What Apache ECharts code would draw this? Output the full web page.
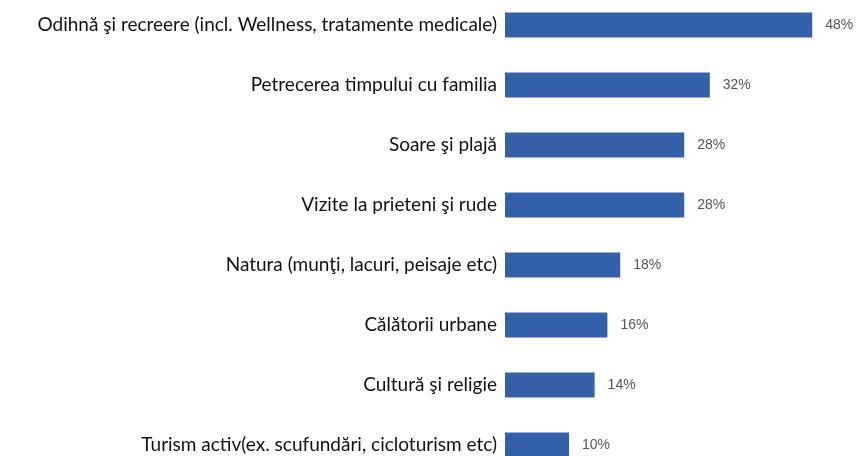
<!DOCTYPE html>
<html><head><meta charset="utf-8">
<script src="https://cdn.jsdelivr.net/npm/echarts@6/dist/echarts.min.js"></script>
<style>html,body{margin:0;padding:0;background:#fff;overflow:hidden;width:861px;height:456px}#c{width:861px;height:480px;margin-top:-5px}</style>
</head><body><div id="c"></div>
<script>
const categories = [
  "Odihnă şi recreere (incl. Wellness, tratamente medicale)",
  "Petrecerea timpului cu familia",
  "Soare şi plajă",
  "Vizite la prieteni şi rude",
  "Natura (munţi, lacuri, peisaje etc)",
  "Călătorii urbane",
  "Cultură şi religie",
  "Turism activ(ex. scufundări, cicloturism etc)"
];
const values = [48, 32, 28, 28, 18, 16, 14, 10];

const chart = echarts.init(document.getElementById('c'), null, {renderer: 'canvas'});
chart.setOption({
  animation: false,
  grid: {left: 505, top: 0, width: 320, height: 480, containLabel: false},
  xAxis: {type: 'value', min: 0, max: 50, show: false},
  yAxis: {
    type: 'category', data: categories, inverse: true,
    axisLine: {show: false}, axisTick: {show: false}, splitLine: {show: false},
    axisLabel: {color: '#111', fontFamily: 'Lato', fontSize: 19, margin: 8}
  },
  series: [{
    type: 'bar', data: values, barWidth: 25,
    itemStyle: {color: '#3460AA'},
    label: {show: true, position: 'right', distance: 13, formatter: '{c}%',
      color: '#555', fontFamily: 'Liberation Sans', fontSize: 14}
  }]
});
</script></body></html>
